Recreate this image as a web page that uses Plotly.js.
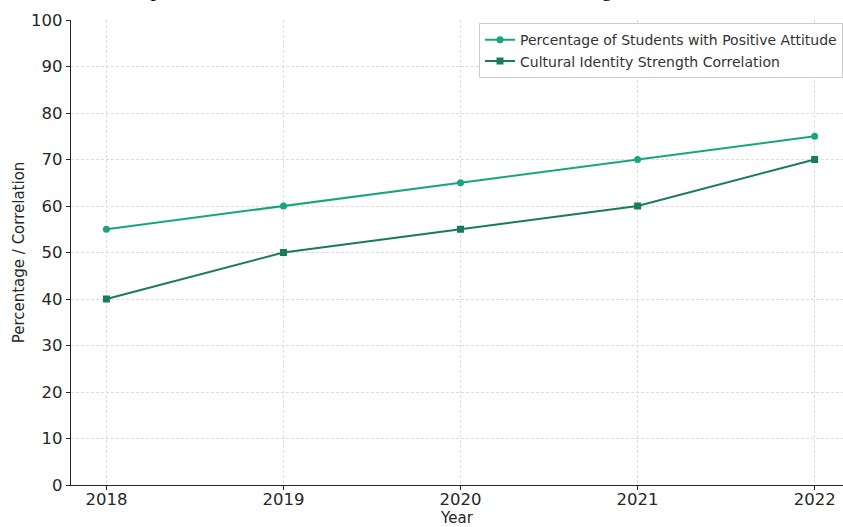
<!DOCTYPE html>
<html>
<head>
<meta charset="utf-8">
<script src="https://cdn.plot.ly/plotly-3.0.1.min.js"></script>
<style>html,body{margin:0;padding:0;background:#fff;}#chart{width:843px;height:527px;}</style>
</head>
<body>
<div id="chart"></div>
<script>
const years = [2018, 2019, 2020, 2021, 2022];
const positiveAttitude = [55, 60, 65, 70, 75];
const identityCorrelation = [40, 50, 55, 60, 70];
const seriesNames = ["Percentage of Students with Positive Attitude", "Cultural Identity Strength Correlation"];
const chartTitle = "Impact of Arts Education on Attitudes Towards Heritage and Cultural Roots";
const yTicks = [0, 10, 20, 30, 40, 50, 60, 70, 80, 90, 100];

const traces = [
  {x: years, y: positiveAttitude, name: seriesNames[0], mode: "lines+markers",
   line: {color: "#17a57f", width: 2}, marker: {symbol: "circle", size: 7, color: "#17a57f"}},
  {x: years, y: identityCorrelation, name: seriesNames[1], mode: "lines+markers",
   line: {color: "#187b5e", width: 2}, marker: {symbol: "square", size: 7, color: "#187b5e"}}
];

const font = "DejaVu Sans, sans-serif";
const layout = {
  width: 843, height: 527,
  margin: {l: 71, r: 0, t: 20, b: 42},
  paper_bgcolor: "#fff", plot_bgcolor: "#fff",
  showlegend: true,
  font: {family: font, color: "#262626"},
  xaxis: {
    range: [2017.8, 2022.16], tickvals: years, ticktext: years.map(String),
    showgrid: true, gridcolor: "#dcdcdc", griddash: "3px,2px", gridwidth: 1,
    zeroline: false, showline: true, linecolor: "#262626", linewidth: 1.3,
    ticks: "outside", ticklen: 4, tickcolor: "#262626", tickwidth: 1,
    ticklabelstandoff: -5,
    tickfont: {size: 16.5, family: font, color: "#262626"},
    title: {text: "Year", font: {size: 15, family: font, color: "#262626"}, standoff: 2}
  },
  yaxis: {
    range: [0, 100], tickvals: yTicks,
    showgrid: true, gridcolor: "#dcdcdc", griddash: "3px,2px", gridwidth: 1,
    zeroline: false, showline: true, linecolor: "#262626", linewidth: 1.3,
    ticks: "outside", ticklen: 4, tickcolor: "#262626", tickwidth: 1,
    tickfont: {size: 16.5, family: font, color: "#262626"},
    title: {text: "Percentage / Correlation", font: {size: 15, family: font, color: "#262626"}, standoff: 2}
  },
  legend: {
    x: 1.0, xanchor: "right", y: 0.993, yanchor: "top",
    bgcolor: "rgba(255,255,255,0.85)", bordercolor: "#cccccc", borderwidth: 1,
    font: {size: 14, family: font, color: "#333"},
    tracegroupgap: 0, itemwidth: 30
  },
  annotations: [{
    text: chartTitle, xref: "paper", yref: "paper", x: 0.504, y: 1.037,
    xanchor: "center", yanchor: "bottom", showarrow: false,
    font: {size: 22, family: "Liberation Serif, Times New Roman, serif", color: "#000"}
  }]
};

Plotly.newPlot("chart", traces, layout, {displayModeBar: false, staticPlot: true});
</script>
</body>
</html>
